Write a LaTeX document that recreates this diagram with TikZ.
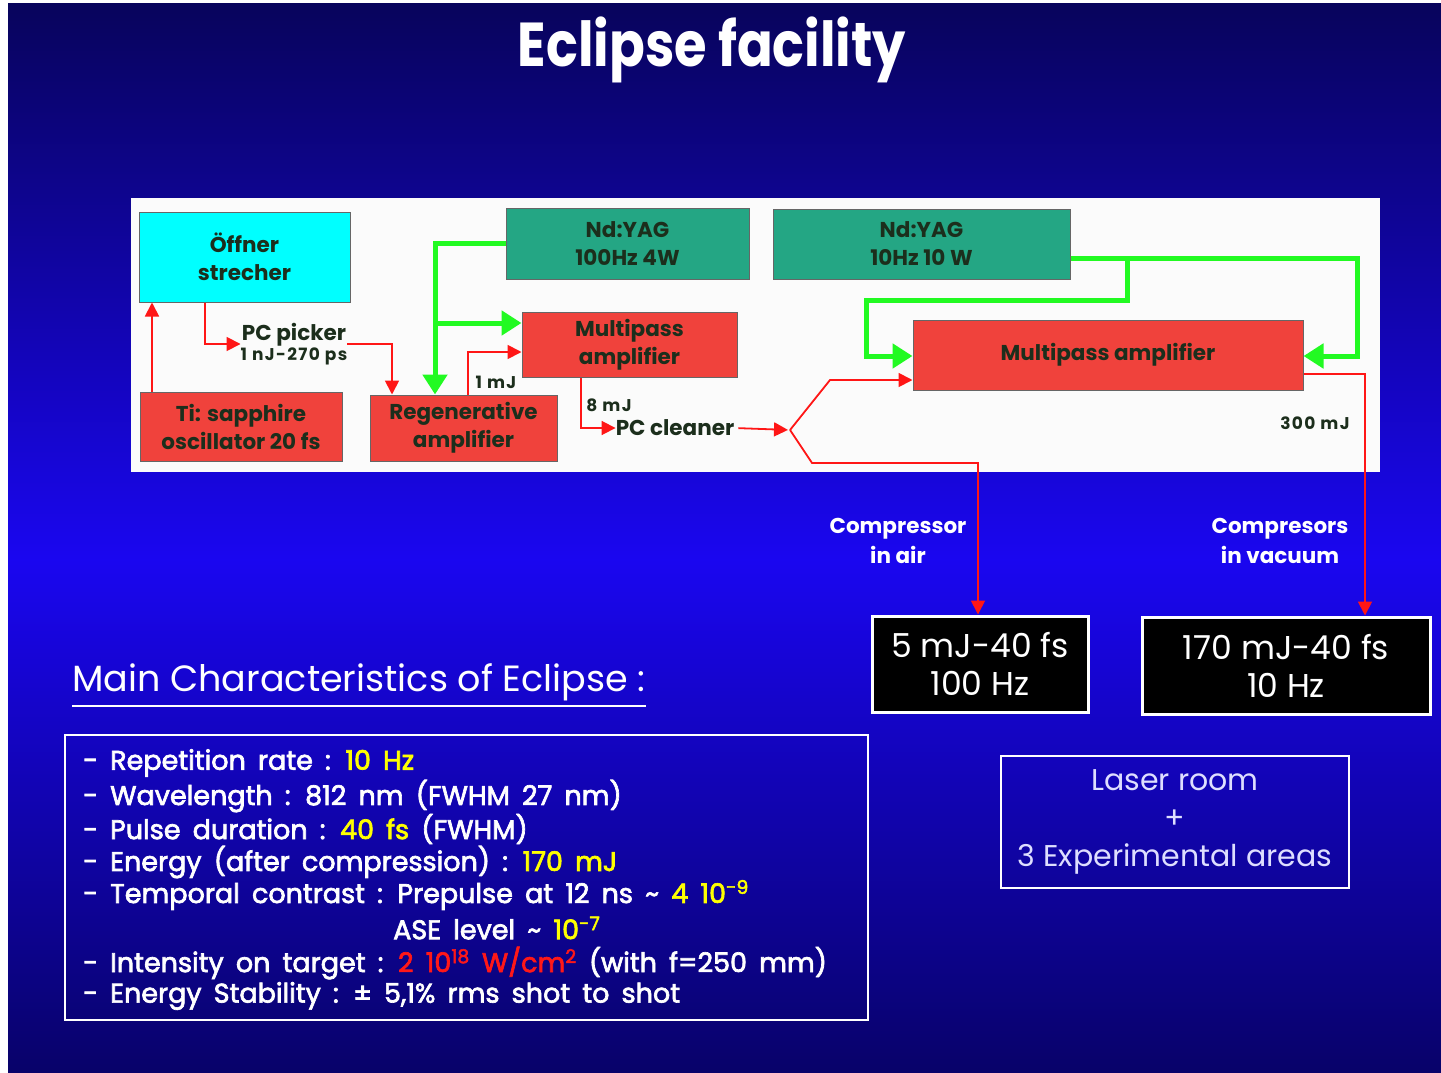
\documentclass[tikz,border=0pt]{standalone}
\usepackage{fontspec}
\setmainfont{Poppins}
\newfontfamily\condfont[FakeStretch=0.85]{Poppins}
\newfontfamily\spacedfont[LetterSpace=8.0]{Poppins}
\newfontfamily\medfont[FakeBold=2.5]{Poppins}
\newcommand\widespaces{\spaceskip=0.45em plus 0.1em\relax}
\usetikzlibrary{arrows.meta}
\definecolor{bgdark}{RGB}{8,4,92}
\definecolor{bgbright}{RGB}{26,6,240}
\definecolor{bgbot}{RGB}{8,2,105}
\definecolor{boxred}{RGB}{240,66,60}
\definecolor{lred}{RGB}{255,22,22}
\definecolor{lgreen}{RGB}{34,250,34}
\definecolor{tealc}{RGB}{36,166,132}
\definecolor{cyanc}{RGB}{0,255,255}
\definecolor{ink}{RGB}{28,46,28}
\definecolor{yel}{RGB}{255,255,0}
\definecolor{lav}{RGB}{222,222,255}
\definecolor{txtred}{RGB}{255,24,24}
\tikzset{
  blk/.style={draw=black!60, line width=1pt, inner sep=0pt, align=center, text=ink,
    font=\bfseries\fontsize{21.5}{28}\selectfont},
  redbox/.style={blk, fill=boxred},
  tealbox/.style={blk, fill=tealc},
  cybox/.style={blk, fill=cyanc},
  rl/.style={draw=lred, line width=1.8pt, -{Triangle[length=14pt,width=14pt]}},
  gl/.style={draw=lgreen, line width=5pt, -{Triangle[length=20pt,width=24pt]}},
  lbl/.style={text=ink, inner sep=0pt, font=\bfseries\fontsize{21.5}{24}\selectfont},
  slbl/.style={text=ink, inner sep=0pt, font=\spacedfont\bfseries\fontsize{17}{20}\selectfont},
  outbox/.style={draw=white, fill=black, line width=3pt, text=white, align=center,
    inner sep=0pt, font=\fontsize{33}{38}\selectfont},
  wl/.style={text=white, anchor=west, inner sep=0pt,
    font=\medfont\fontsize{27}{30}\selectfont\widespaces},
  comp/.style={text=white, align=center, inner sep=0pt, font=\bfseries\fontsize{21.5}{30}\selectfont},
}
\begin{document}
\begin{tikzpicture}[x=1pt,y=-1pt]
\useasboundingbox (0,0) rectangle (1441,1073);
\fill[white] (0,0) rectangle (1441,1073);
\shade[top color=bgdark, bottom color=bgbright] (8,4) rectangle (1441,560);
\shade[top color=bgbright, bottom color=bgbot] (8,559) rectangle (1441,1073);
% title
\node[text=white, font=\condfont\bfseries\fontsize{62}{70}\selectfont, inner sep=0pt] (title) at (712,50) {Eclipse facility};
% white panel
\fill[white!97!gray] (131,198) rectangle (1380,472);
% boxes
\node[cybox, minimum width=211pt, minimum height=90pt] (off) at (244.5,257) {Öffner\\strecher};
\node[redbox, minimum width=202pt, minimum height=69pt] (osc) at (241,426.5) {Ti: sapphire\\oscillator 20 fs};
\node[redbox, minimum width=187pt, minimum height=66pt] (reg) at (463.5,428) {Regenerative\\amplifier};
\node[tealbox, minimum width=243pt, minimum height=71pt] (yag1) at (627.5,243.5) {Nd:YAG\\100Hz 4W};
\node[tealbox, minimum width=297pt, minimum height=70pt] (yag2) at (921.5,244) {Nd:YAG\\10Hz 10 W};
\node[redbox, minimum width=215pt, minimum height=65pt] (mp1) at (629.5,344.5) {Multipass\\amplifier};
\node[redbox, minimum width=390pt, minimum height=70pt] (mp2) at (1108,355) {Multipass amplifier};
% small labels
\node[lbl, align=center] (pcp) at (294,344) {PC picker\\[-4pt]{\spacedfont\bfseries\fontsize{17}{20}\selectfont 1 nJ-270 ps}};
\node[lbl] (pcc) at (675,428) {PC cleaner};
\node[slbl] (l1) at (496,382) {1 mJ};
\node[slbl] (l8) at (609,405) {8 mJ};
\node[slbl] (l300) at (1315,423) {300 mJ};
% output boxes
\node[outbox, minimum width=216pt, minimum height=96pt] (out1) at (980,664) {5 mJ-40 fs\\100 Hz};
\node[outbox, minimum width=288pt, minimum height=97pt] (out2) at (1286,665.5) {170 mJ-40 fs\\10 Hz};
\node[draw=white, line width=2.5pt, text=lav, align=center, inner sep=0pt,
  minimum width=348pt, minimum height=132pt, font=\fontsize{30}{38}\selectfont] (lr) at (1175,822) {Laser room\\+\\3 Experimental areas};
% compressor labels
\node[comp] (cair) at (898,541) {Compressor\\in air};
\node[comp] (cvac) at (1280,541) {Compresors\\in vacuum};
% coordinates
\coordinate (a1) at (152,0);
\coordinate (a2) at (205,0);
\coordinate (a3) at (392,0);
\coordinate (a4) at (468,0);
\coordinate (a5) at (0,352);
\coordinate (a6) at (581,0);
\coordinate (split) at (790,430);
\coordinate (s1) at (830,380);
\coordinate (s2) at (812,463);
\coordinate (s3) at (978,463);
\coordinate (s4) at (0,374);
\coordinate (s5) at (1365,0);
\coordinate (g1) at (435,0);
\coordinate (g2) at (0,323);
\coordinate (g3) at (0,258);
\coordinate (g4) at (1357,0);
\coordinate (g5) at (0,356);
\coordinate (g6) at (1127,0);
\coordinate (g7) at (0,300);
\coordinate (g8) at (866,0);
% red connectors
\draw[rl] (osc.north -| a1) -- (off.south -| a1);
\draw[rl] (off.south -| a2) |- (pcp.west);
\draw[rl] (pcp.east) -| (a3 |- reg.north);
\draw[rl] (reg.north -| a4) |- (mp1.west |- a5);
\draw[rl] (mp1.south -| a6) |- (pcc.west);
\draw[rl, shorten <=4pt, shorten >=2pt] (pcc.east) -- (split);
\draw[rl] (split) -- (s1) -- (mp2.west |- s1);
\draw[rl] (split) -- (s2) -- (s3) -- (out1.north -| s3);
\draw[rl] (mp2.east |- s4) -| (out2.north -| s5);
% green connectors
\draw[gl] (yag1.west) -| (g1 |- reg.north);
\draw[gl] (g1 |- g2) -- (mp1.west |- g2);
\draw[gl] (yag2.east |- g3) -| (g4 |- g5) -- (mp2.east |- g5);
\draw[gl] (g6 |- g3) -- (g6 |- g7) -| (g8 |- g5) -- (mp2.west |- g5);
% main characteristics
\node[text=white, anchor=west, inner sep=0pt, font=\fontsize{36.5}{40}\selectfont] (mc) at (72,682) {Main Characteristics of Eclipse :};
\draw[white, line width=2pt] ([yshift=-5pt]mc.south west) -- ([yshift=-5pt]mc.south east);
\node[draw=white, line width=2.5pt, minimum width=803pt, minimum height=285pt, inner sep=0pt] (cbox) at (466.5,877.5) {};
\node[wl] (t1) at (83,763) {- Repetition rate : \textcolor{yel}{10 Hz}};
\node[wl] (t2) at (83,796) {- Wavelength : 812 nm (FWHM 27 nm)};
\node[wl] (t3) at (83,829) {- Pulse duration : \textcolor{yel}{40 fs} (FWHM)};
\node[wl] (t4) at (83,862) {- Energy (after compression) : \textcolor{yel}{170 mJ}};
\node[wl] (t5) at (83,895) {- Temporal contrast : Prepulse at 12 ns \textasciitilde{} \textcolor{yel}{4 10\textsuperscript{-9}}};
\node[wl] (t6) at (393,928) {ASE level \textasciitilde{} \textcolor{yel}{10\textsuperscript{-7}}};
\node[wl] (t7) at (83,963) {- Intensity on target : \textcolor{txtred}{2 10\textsuperscript{18} W/cm\textsuperscript{2}} (with f=250 mm)};
\node[wl] (t8) at (83,996) {- Energy Stability : ± 5,1\% rms shot to shot};
\end{tikzpicture}
\end{document}
